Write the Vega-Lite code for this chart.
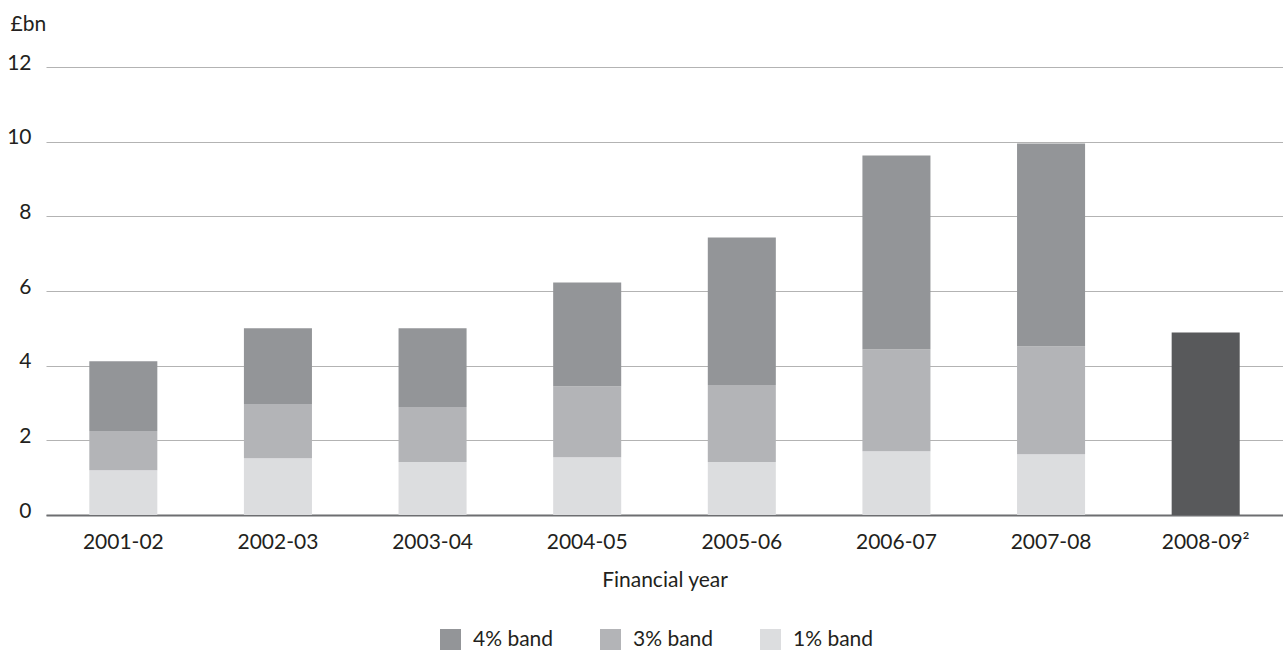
{
  "$schema": "https://vega.github.io/schema/vega-lite/v6.json",
  "width": 1237,
  "height": 448,
  "autosize": {"type": "none"},
  "padding": {"left": 46, "top": 67, "right": 0, "bottom": 139},
  "background": "white",
  "config": {
    "view": {"stroke": null},
    "font": "Lato",
    "axis": {"labelFont": "Lato", "titleFont": "Lato", "labelColor": "#231f20", "titleColor": "#231f20"},
    "legend": {"labelFont": "Lato"}
  },
  "data": {
    "values": [
      {"year": "2001-02", "band": "1% band", "value": 1.20, "ord": 1},
      {"year": "2001-02", "band": "3% band", "value": 1.05, "ord": 2},
      {"year": "2001-02", "band": "4% band", "value": 1.87, "ord": 3},
      {"year": "2002-03", "band": "1% band", "value": 1.52, "ord": 1},
      {"year": "2002-03", "band": "3% band", "value": 1.45, "ord": 2},
      {"year": "2002-03", "band": "4% band", "value": 2.03, "ord": 3},
      {"year": "2003-04", "band": "1% band", "value": 1.42, "ord": 1},
      {"year": "2003-04", "band": "3% band", "value": 1.47, "ord": 2},
      {"year": "2003-04", "band": "4% band", "value": 2.11, "ord": 3},
      {"year": "2004-05", "band": "1% band", "value": 1.55, "ord": 1},
      {"year": "2004-05", "band": "3% band", "value": 1.90, "ord": 2},
      {"year": "2004-05", "band": "4% band", "value": 2.78, "ord": 3},
      {"year": "2005-06", "band": "1% band", "value": 1.42, "ord": 1},
      {"year": "2005-06", "band": "3% band", "value": 2.06, "ord": 2},
      {"year": "2005-06", "band": "4% band", "value": 3.95, "ord": 3},
      {"year": "2006-07", "band": "1% band", "value": 1.71, "ord": 1},
      {"year": "2006-07", "band": "3% band", "value": 2.73, "ord": 2},
      {"year": "2006-07", "band": "4% band", "value": 5.19, "ord": 3},
      {"year": "2007-08", "band": "1% band", "value": 1.63, "ord": 1},
      {"year": "2007-08", "band": "3% band", "value": 2.89, "ord": 2},
      {"year": "2007-08", "band": "4% band", "value": 5.43, "ord": 3},
      {"year": "2008-09²", "band": "Total", "value": 4.89, "ord": 1}
    ]
  },
  "mark": {"type": "bar"},
  "encoding": {
    "x": {
      "field": "year",
      "type": "nominal",
      "sort": null,
      "scale": {"paddingInner": 0.56, "paddingOuter": 0.28},
      "axis": {
        "title": "Financial year",
        "labelAngle": 0,
        "labelFontSize": 21,
        "labelPadding": 16,
        "labelBaseline": "top",
        "ticks": false,
        "domain": true,
        "domainColor": "#6d6e71",
        "domainWidth": 2,
        "titleFontSize": 21,
        "titleFontWeight": "normal",
        "titleBaseline": "alphabetic",
        "titleY": 71
      }
    },
    "y": {
      "field": "value",
      "type": "quantitative",
      "stack": "zero",
      "scale": {"domain": [0, 12]},
      "axis": {
        "values": [0, 2, 4, 6, 8, 10, 12],
        "title": "£bn",
        "titleAngle": 0,
        "titleAlign": "left",
        "titleBaseline": "alphabetic",
        "titleX": -36,
        "titleY": -37,
        "titleFontSize": 21,
        "titleFontWeight": "normal",
        "labelFontSize": 21,
        "labelPadding": 15,
        "labelOffset": -4,
        "ticks": false,
        "domain": false,
        "grid": true,
        "gridColor": "#b3b3b3",
        "gridWidth": 1
      }
    },
    "order": {"field": "ord", "type": "quantitative"},
    "color": {
      "field": "band",
      "type": "nominal",
      "scale": {
        "domain": ["4% band", "3% band", "1% band", "Total"],
        "range": ["#939598", "#b3b4b7", "#dcdddf", "#58595b"]
      },
      "legend": {
        "values": ["4% band", "3% band", "1% band"],
        "title": null,
        "orient": "none",
        "direction": "horizontal",
        "legendX": 394,
        "legendY": 562,
        "symbolType": "square",
        "symbolSize": 441,
        "symbolStrokeWidth": 0,
        "symbolOpacity": 1,
        "labelFontSize": 21,
        "labelColor": "#231f20",
        "labelOffset": 12,
        "columnPadding": 46
      }
    }
  }
}
